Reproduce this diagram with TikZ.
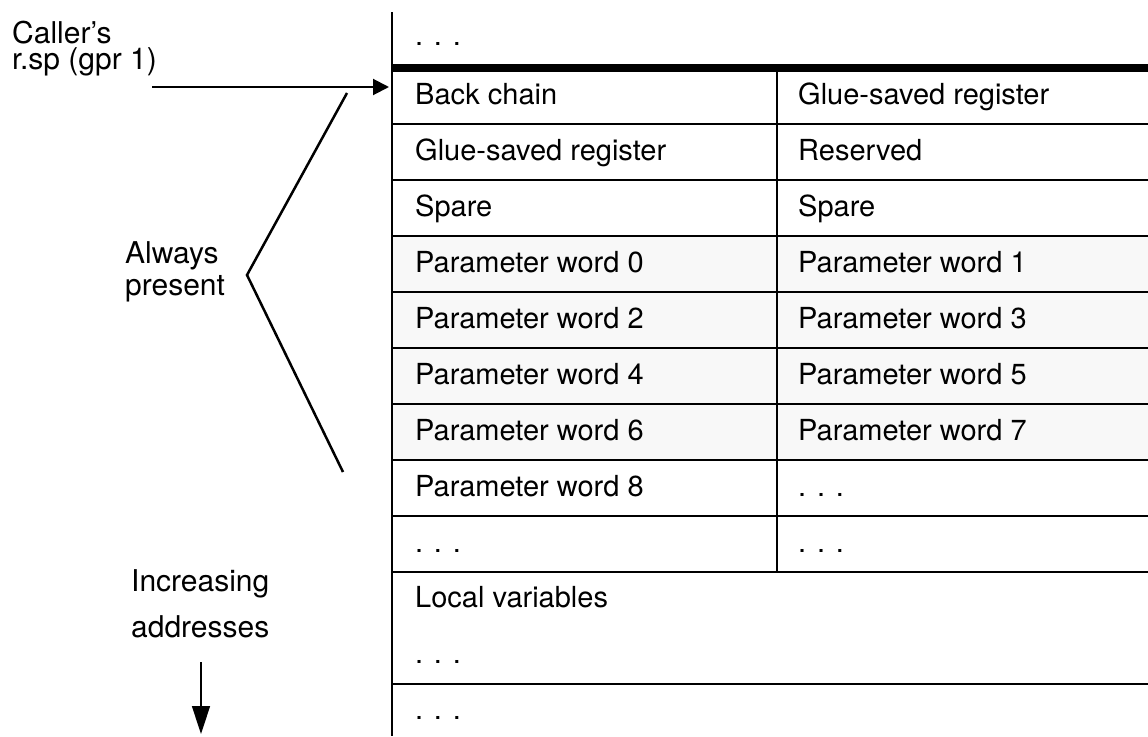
\documentclass[tikz,border=0pt]{standalone}
\usepackage{fontspec}
\setmainfont{TeX Gyre Heros}
\usetikzlibrary{arrows.meta}
\definecolor{paramfill}{HTML}{F8F8F8}
\begin{document}
\begin{tikzpicture}[x=1pt,y=-1pt,
  cell/.style={anchor=base west, inner sep=0pt, font=\fontsize{29}{34}\selectfont},
  side/.style={anchor=base west, inner sep=0pt, align=left},
  rowrule/.style={line width=1.5pt},
  framerule/.style={line width=2pt},
  pointer/.style={line width=2pt, -{Triangle[length=16pt,width=16pt]}},
  downarrow/.style={line width=1.5pt, -{Triangle[length=28pt,width=18pt]}},
  brace/.style={line width=2.5pt, line join=miter},
]
\useasboundingbox (0,0) rectangle (1148,736);

% shaded parameter-word rows
\fill[paramfill] (392,236) rectangle (1148,460);

% horizontal rules between rows
\foreach \y in {124,180,236,292,348,404,460,516,572,684}
  \draw[rowrule] (392,\y) -- (1148,\y);

% heavy rule at the caller's stack pointer
\draw[line width=8pt] (392,68.3) -- (1148,68.3);

% frame edge and column divider
\draw[framerule] (392,12) -- (392,736);
\draw[framerule] (777,64) -- (777,572);

% cell texts
\node[cell] (top) at (415,45) {. . .};
\node[cell] (c0l) at (415,104) {Back chain};
\node[cell] (c0r) at (798,104) {Glue-saved register};
\node[cell] (c1l) at (415,160) {Glue-saved register};
\node[cell] (c1r) at (798,160) {Reserved};
\node[cell] (c2l) at (415,216) {Spare};
\node[cell] (c2r) at (798,216) {Spare};
\node[cell] (c3l) at (415,272) {Parameter word 0};
\node[cell] (c3r) at (798,272) {Parameter word 1};
\node[cell] (c4l) at (415,328) {Parameter word 2};
\node[cell] (c4r) at (798,328) {Parameter word 3};
\node[cell] (c5l) at (415,384) {Parameter word 4};
\node[cell] (c5r) at (798,384) {Parameter word 5};
\node[cell] (c6l) at (415,440) {Parameter word 6};
\node[cell] (c6r) at (798,440) {Parameter word 7};
\node[cell] (c7l) at (415,496) {Parameter word 8};
\node[cell] (c7r) at (798,496) {. . .};
\node[cell] (c8l) at (415,552) {. . .};
\node[cell] (c8r) at (798,552) {. . .};
\node[cell] (loc) at (415,607) {Local variables};
\node[cell] (locd) at (415,663) {. . .};
\node[cell] (last) at (415,719) {. . .};

% side labels (anchored at the baseline of their last line)
\node[side, font=\fontsize{30}{26}\selectfont] (caller) at (12,69)
  {Caller’s\\r.sp (gpr 1)};
\node[side, font=\fontsize{30}{32}\selectfont] (always) at (125,295)
  {Always\\present};
\node[side, font=\fontsize{30}{46}\selectfont] (incr) at (131,637)
  {Increasing\\addresses};

% stack pointer arrow
\coordinate (spfrom) at (152,87);
\coordinate (spto) at (389,87);
\draw[pointer] (spfrom) -- (spto);

% bracket marking the always-present area
\coordinate (brtop) at (347,93);
\coordinate (brtip) at (247,275);
\coordinate (brbot) at (343,472);
\draw[brace] (brtop) -- (brtip) -- (brbot);

% direction of increasing addresses
\coordinate (dnfrom) at (201,662);
\coordinate (dnto) at (201,734);
\draw[downarrow] (dnfrom) -- (dnto);
\end{tikzpicture}
\end{document}
